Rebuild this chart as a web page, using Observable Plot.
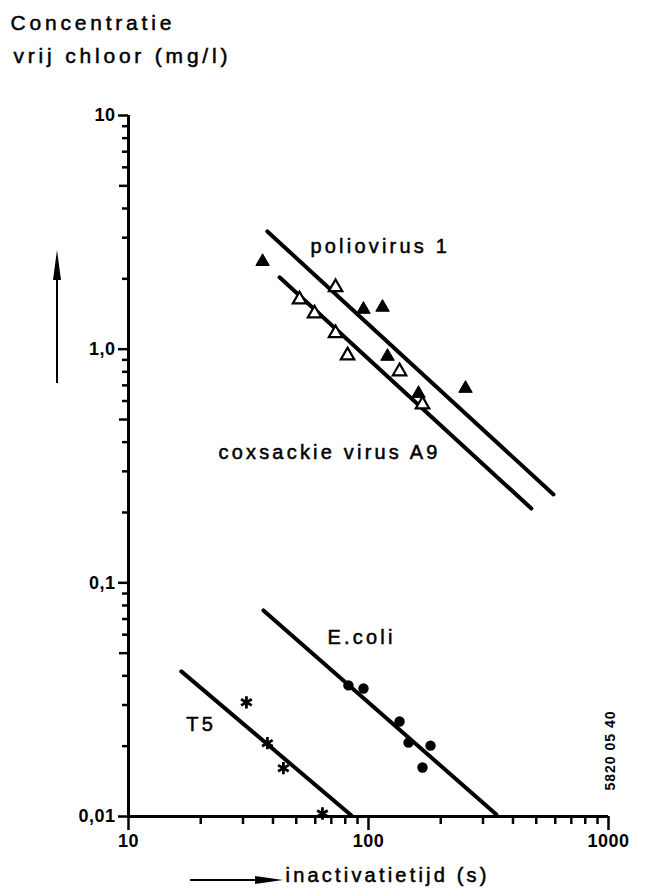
<!DOCTYPE html>
<html><head><meta charset="utf-8">
<script src="https://cdn.jsdelivr.net/npm/d3@7"></script>
<script src="https://cdn.jsdelivr.net/npm/@observablehq/plot@0.6"></script>
<style>
html,body{margin:0;padding:0;background:#fff;}
#chart svg{display:block;}
</style></head><body><div id="chart"></div>
<script>
// ---- data ----
const polioX = [36.2, 95.3, 114.4, 120, 161.6, 253.6];
const polioY = [2.37, 1.48, 1.51, 0.931, 0.646, 0.679];
const coxX = [72.9, 51.6, 59.6, 72.9, 81.8, 134.7, 167.9];
const coxY = [1.84, 1.63, 1.42, 1.17, 0.94, 0.803, 0.58];
const ecoliX = [82.5, 95.3, 134.7, 146.8, 181.3, 167.9];
const ecoliY = [0.0364, 0.0353, 0.0255, 0.0207, 0.0201, 0.0162];
const t5X = [31.0, 37.9, 44.2, 64.3];
const t5Y = [0.0308, 0.0206, 0.0161, 0.0103];

const lineNames = ["poliovirus 1", "coxsackie virus A9", "E.coli", "T5"];
const lineX1 = [37.9, 42.6, 36.5, 16.6];
const lineY1 = [3.19, 2.03, 0.0762, 0.0418];
const lineX2 = [590, 477, 341, 84.9];
const lineY2 = [0.239, 0.208, 0.0102, 0.0101];

const labelX = [57.3, 23.7, 67.5, 17.4];
const labelY = [2.75, 0.361, 0.0584, 0.0248];

const yMajor = [0.01, 0.1, 1, 10];
const yMajorLabels = ["0,01", "0,1", "1,0", "10"];
const xMajor = [10, 100, 1000];
const xMajorLabels = ["10", "100", "1000"];
const minorFactors = [2, 3, 4, 6, 7, 8, 9];

const titleLines = ["Concentratie", "vrij chloor (mg/l)"];
const xTitle = "inactivatietijd (s)";
const codeText = "5820 05 40";

// ---- tables built from the arrays ----
const pts = (xs, ys) => xs.map((x, i) => ({x, y: ys[i]}));
const segs = lineNames.flatMap((name, i) => [
  {name, x: lineX1[i], y: lineY1[i]},
  {name, x: lineX2[i], y: lineY2[i]}
]);
const labels = lineNames.map((name, i) => ({name, x: labelX[i], y: labelY[i]}));
const yMinor = [0.01, 0.1, 1].flatMap(d => minorFactors.map(f => +(d * f).toPrecision(3)));
const yFive = [0.05, 0.5, 5];
const xMinor = [10, 100].flatMap(d => [2, 3, 4, 5, 6, 7, 8, 9].map(f => d * f));
const yFmt = new Map(yMajor.map((d, i) => [d, yMajorLabels[i]]));
const xFmt = new Map(xMajor.map((d, i) => [d, xMajorLabels[i]]));

const plot = Plot.plot({
  width: 647,
  height: 893,
  marginLeft: 128,
  marginRight: 39,
  marginTop: 115,
  marginBottom: 77,
  style: {fontFamily: "'Liberation Sans', Arial, sans-serif", fontSize: "20px", background: "white", color: "black"},
  x: {type: "log", domain: [10, 1000], label: null},
  y: {type: "log", domain: [0.01, 10], label: null},
  marks: [
    Plot.ruleX([10], {strokeWidth: 3}),
    Plot.ruleY([0.01], {strokeWidth: 3}),
    Plot.axisY(yMajor, {anchor: "left", tickSize: 10, tickPadding: 3, strokeWidth: 2.5, tickFormat: d => yFmt.get(d), label: null}),
    Plot.axisY(yFive, {anchor: "left", tickSize: 9, strokeWidth: 2.5, tickFormat: () => "", label: null}),
    Plot.axisY(yMinor.filter(d => !yFive.includes(d)), {anchor: "left", tickSize: 6, strokeWidth: 2.5, tickFormat: () => "", label: null}),
    Plot.axisX(xMajor, {anchor: "bottom", tickSize: 14, tickPadding: 4, strokeWidth: 2.5, tickFormat: d => xFmt.get(d), label: null}),
    Plot.axisX(xMinor, {anchor: "bottom", tickSize: 8, strokeWidth: 2.5, tickFormat: () => "", label: null}),
    Plot.line(segs, {x: "x", y: "y", z: "name", strokeWidth: 4, stroke: "black"}),
    Plot.dot(pts(polioX, polioY), {x: "x", y: "y", symbol: "triangle", r: 5, fill: "black", stroke: "black", strokeWidth: 1}),
    Plot.dot(pts(coxX, coxY), {x: "x", y: "y", symbol: "triangle", r: 5, fill: "white", stroke: "black", strokeWidth: 2.2}),
    Plot.dot(pts(ecoliX, ecoliY), {x: "x", y: "y", symbol: "circle", r: 5.2, fill: "black"}),
    Plot.dot(pts(t5X, t5Y), {x: "x", y: "y", symbol: "asterisk", r: 5.8, stroke: "black", strokeWidth: 2.8}),
    Plot.text(labels, {x: "x", y: "y", text: "name", textAnchor: "start", lineAnchor: "middle", fontSize: 20}),
    Plot.text([titleLines[0]], {frameAnchor: "top-left", dx: -118, dy: -92, textAnchor: "start", lineAnchor: "middle", fontSize: 21}),
    Plot.text([titleLines[1]], {frameAnchor: "top-left", dx: -115, dy: -59, textAnchor: "start", lineAnchor: "middle", fontSize: 21}),
    Plot.text([xTitle], {frameAnchor: "bottom-left", dx: 157, dy: 59, textAnchor: "start", lineAnchor: "middle", fontSize: 20}),
    Plot.text([codeText], {frameAnchor: "bottom-right", dx: 2, dy: -66, rotate: -90, textAnchor: "middle", lineAnchor: "middle", fontSize: 14, fontWeight: "bold"})
  ]
});

document.getElementById("chart").append(plot);

// letter spacing / weight to mimic the loose, heavy phototypesetting
const svg = d3.select(plot);
svg.selectAll("text").each(function() {
  const t = this.textContent;
  if (titleLines.includes(t)) {
    this.style.letterSpacing = "3.8px";
    this.style.stroke = "black"; this.style.strokeWidth = "0.5px";
  } else if (lineNames.includes(t) || t === xTitle) {
    this.style.letterSpacing = "3.2px";
    this.style.stroke = "black"; this.style.strokeWidth = "0.5px";
  } else if (t === codeText) {
    this.style.letterSpacing = "1px";
  } else if (yMajorLabels.includes(t) || xMajorLabels.includes(t)) {
    this.style.fontSize = "18px";
    this.style.fontWeight = "bold";
    this.style.letterSpacing = "0.5px";
  }
});

// decorative arrows (axis direction indicators)
const g = svg.append("g").attr("aria-label", "direction arrows");
g.append("line").attr("x1", 57).attr("x2", 57).attr("y1", 383).attr("y2", 270)
  .attr("stroke", "black").attr("stroke-width", 2);
g.append("path").attr("d", "M57,250 L53,280 L61,280 Z").attr("fill", "black");
g.append("line").attr("x1", 190).attr("x2", 262).attr("y1", 880).attr("y2", 880)
  .attr("stroke", "black").attr("stroke-width", 2);
g.append("path").attr("d", "M283,880 L255,876 L255,884 Z").attr("fill", "black");
</script></body></html>
